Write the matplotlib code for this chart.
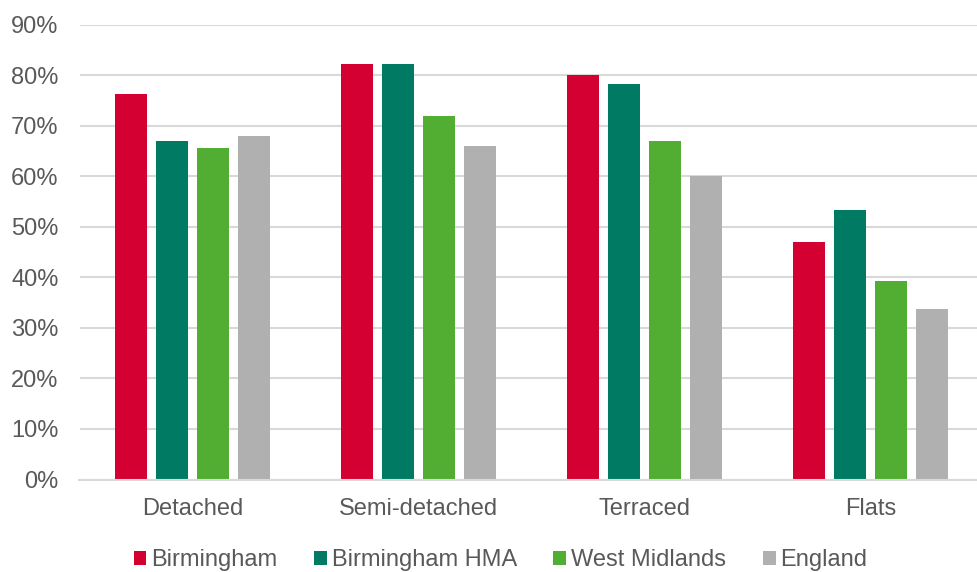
import matplotlib.pyplot as plt
from matplotlib.patches import Patch
import numpy as np

plt.rcParams['font.family'] = ['Liberation Sans', 'DejaVu Sans']

categories = ["Detached", "Semi-detached", "Terraced", "Flats"]
series = ["Birmingham", "Birmingham HMA", "West Midlands", "England"]
birmingham = [76.3, 82.2, 80.1, 47.0]
birmingham_hma = [67.0, 82.2, 78.3, 53.3]
west_midlands = [65.6, 72.0, 66.9, 39.2]
england = [68.0, 66.0, 60.0, 33.7]
values = [birmingham, birmingham_hma, west_midlands, england]
colours = ["#D50032", "#007A63", "#52AE32", "#B0B0B0"]
text_col = "#595959"
grid_col = "#D9D9D9"

fig = plt.figure(figsize=(9.77, 5.72), dpi=100)
W, H = 977, 572
ax = fig.add_axes([79.5 / W, 1 - 479.5 / H, (977 - 79.5) / W, (479.5 - 24.5) / H])

x = np.arange(len(categories))
step = 41 / 226
width = 32 / 226
for i, (name, vals) in enumerate(zip(series, values)):
    ax.bar(x + (i - 1.5) * step, vals, width, color=colours[i], label=name, zorder=3)

ax.set_ylim(0, 90)
ax.set_xlim(-0.5, 3.5 - 6.5 / 226)
ax.set_yticks(range(0, 91, 10))
ax.set_yticklabels([f"{v}%" for v in range(0, 91, 10)])
ax.set_xticks(x)
ax.set_xticklabels(categories)
ax.grid(axis='y', color=grid_col, linewidth=1.5, zorder=0)
for s in ["top", "right", "left"]:
    ax.spines[s].set_visible(False)
ax.spines["bottom"].set_color(grid_col)
ax.spines["bottom"].set_linewidth(1.5)
ax.spines["bottom"].set_zorder(4)
ax.tick_params(axis='both', length=0, labelsize=17, labelcolor=text_col)
ax.tick_params(axis='y', pad=15)
ax.tick_params(axis='x', pad=13)

handles = [Patch(facecolor=c, edgecolor='none') for c in colours]
fig.legend(handles, series, loc='center', bbox_to_anchor=(0.5 + 12 / W, 1 - 560 / H), ncol=4,
           frameon=False, fontsize=17, labelcolor=text_col, handlelength=0.55, handleheight=0.55,
           handletextpad=0.2, columnspacing=1.55)

fig.savefig("out.png", dpi=100)
